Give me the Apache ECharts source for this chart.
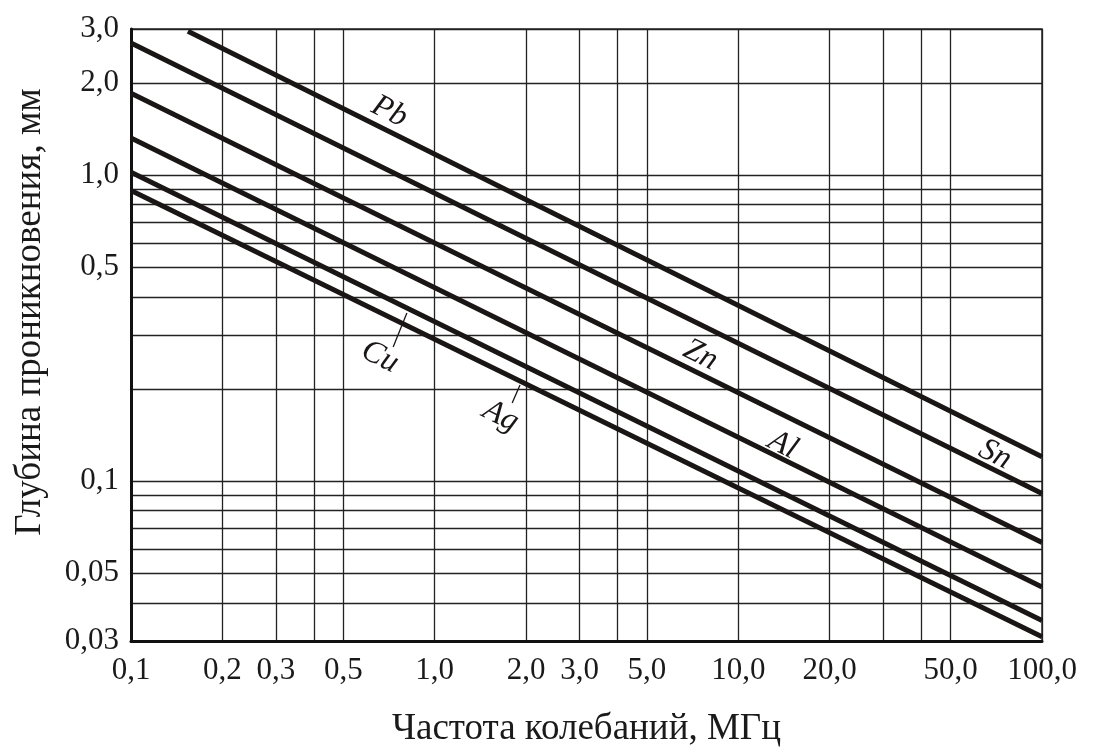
<!DOCTYPE html>
<html>
<head>
<meta charset="utf-8">
<title>Глубина проникновения</title>
<script src="https://cdn.jsdelivr.net/npm/echarts@6/dist/echarts.min.js"></script>
<style>
html,body{margin:0;padding:0;background:#fff;}
#grafico{width:1095px;height:754px;}
</style>
</head>
<body>
<div id="grafico"></div>
<script>
// ось X: частота, МГц (логарифм)
const xLabelValues = [0.1, 0.2, 0.3, 0.5, 1, 2, 3, 5, 10, 20, 50, 100];
const xLabelTexts = ['0,1', '0,2', '0,3', '0,5', '1,0', '2,0', '3,0', '5,0', '10,0', '20,0', '50,0', '100,0'];
const xGridValues = [0.1, 0.2, 0.3, 0.4, 0.5, 1, 2, 3, 4, 5, 10, 20, 30, 40, 50, 100];

// ось Y: глубина, мм (логарифм)
const yLabelValues = [0.03, 0.05, 0.1, 0.5, 1, 2, 3];
const yLabelTexts = ['0,03', '0,05', '0,1', '0,5', '1,0', '2,0', '3,0'];
const yGridValues = [0.03, 0.04, 0.05, 0.06, 0.07, 0.08, 0.09, 0.1, 0.2, 0.3, 0.4, 0.5, 0.6, 0.7, 0.8, 0.9, 1, 2, 3];

// линии металлов (начало и конец)
const metals = ['Pb', 'Sn', 'Zn', 'Al', 'Cu', 'Ag'];
const freqStart = [0.154, 0.1, 0.1, 0.1, 0.1, 0.1];
const freqEnd = [100, 100, 100, 100, 100, 100];
const depthStart = [2.95, 2.70, 1.85, 1.32, 1.02, 0.89];
const depthEnd = [0.120, 0.091, 0.063, 0.045, 0.035, 0.031];

// где стоят подписи
const labelFreq = [0.71, 70, 7.5, 14, 0.66, 1.65];
const labelDepth = [1.61, 0.122, 0.258, 0.131, 0.254, 0.163];

// выноски для Cu и Ag
const leaderMetals = ['Cu', 'Ag'];
const leaderFreq = [[0.81, 0.73], [1.91, 1.80]];
const leaderDepth = [[0.354, 0.274], [0.206, 0.180]];

const lg = v => Math.log10(v);
const fontSerif = '"Liberation Serif", "Times New Roman", serif';

function pickLabel(values, texts, v) {
    for (let i = 0; i < values.length; i++) {
        if (Math.abs(lg(values[i]) - v) < 1e-6) return texts[i];
    }
    return '';
}

let series = metals.map((m, i) => {
    let s = {
        name: m,
        type: 'line',
        symbol: 'none',
        silent: true,
        data: [[lg(freqStart[i]), lg(depthStart[i])], [lg(freqEnd[i]), lg(depthEnd[i])]],
        lineStyle: {color: '#1b1616', width: 5},
        markPoint: {
            silent: true,
            symbol: 'circle',
            symbolSize: 1,
            itemStyle: {color: 'rgba(0,0,0,0)'},
            label: {
                show: true,
                position: 'inside',
                formatter: m,
                rotate: -26.5,
                fontFamily: fontSerif,
                fontStyle: 'italic',
                fontSize: 32,
                color: '#1b1616'
            },
            data: [{coord: [lg(labelFreq[i]), lg(labelDepth[i])]}]
        }
    };
    let k = leaderMetals.indexOf(m);
    if (k >= 0) {
        s.markLine = {
            silent: true,
            symbol: 'none',
            label: {show: false},
            lineStyle: {color: '#1b1616', width: 1.3, type: 'solid'},
            data: [[
                {coord: [lg(leaderFreq[k][0]), lg(leaderDepth[k][0])]},
                {coord: [lg(leaderFreq[k][1]), lg(leaderDepth[k][1])]}
            ]]
        };
    }
    return s;
});

var grafico = document.getElementById('grafico');
var myChart = echarts.init(grafico);
var options = {
    animation: false,
    backgroundColor: '#fff',
    grid: {
        left: 131, right: 53, top: 29, bottom: 113,
        show: true, borderColor: '#2a2a2a', borderWidth: 1.5
    },
    xAxis: {
        type: 'value',
        min: lg(0.1),
        max: lg(100),
        name: 'Частота колебаний, МГц',
        nameLocation: 'middle',
        nameGap: 70,
        nameTextStyle: {fontFamily: fontSerif, fontSize: 37, color: '#1a1a1a'},
        axisLine: {show: true, onZero: false, lineStyle: {color: '#111', width: 3}},
        axisTick: {show: false, customValues: xGridValues.map(lg)},
        splitLine: {show: true, lineStyle: {color: '#222', width: 1.3}},
        axisLabel: {
            customValues: xLabelValues.map(lg),
            formatter: v => pickLabel(xLabelValues, xLabelTexts, v),
            fontFamily: fontSerif, fontSize: 31, color: '#1a1a1a', margin: 14
        }
    },
    yAxis: {
        type: 'value',
        min: lg(0.03),
        max: lg(3),
        name: 'Глубина проникновения, мм',
        nameLocation: 'middle',
        nameGap: 82,
        nameTextStyle: {fontFamily: fontSerif, fontSize: 37, color: '#1a1a1a', padding: [0, 0, 0, 46]},
        axisLine: {show: true, onZero: false, lineStyle: {color: '#111', width: 3}},
        axisTick: {show: false, customValues: yGridValues.map(lg)},
        splitLine: {show: true, lineStyle: {color: '#222', width: 1.3}},
        axisLabel: {
            customValues: yLabelValues.map(lg),
            formatter: v => pickLabel(yLabelValues, yLabelTexts, v),
            fontFamily: fontSerif, fontSize: 31, color: '#1a1a1a', margin: 12
        }
    },
    series: series
};
myChart.setOption(options);
</script>
</body>
</html>
